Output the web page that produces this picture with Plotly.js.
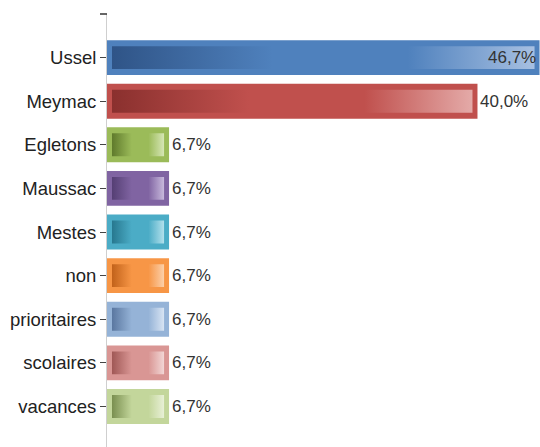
<!DOCTYPE html>
<html>
<head>
<meta charset="utf-8">
<script src="https://cdn.plot.ly/plotly-3.0.1.min.js"></script>
<style>html,body{margin:0;padding:0;background:#fff;}#chart{width:540px;height:447px;}</style>
</head>
<body>
<div id="chart"></div>
<script>
// ---- data ----
const categories = ['Ussel', 'Meymac', 'Egletons', 'Maussac', 'Mestes', 'non', 'prioritaires', 'scolaires', 'vacances'];
const values = [46.7, 40.0, 6.7, 6.7, 6.7, 6.7, 6.7, 6.7, 6.7];
const valueLabels = ['46,7%', '40,0%', '6,7%', '6,7%', '6,7%', '6,7%', '6,7%', '6,7%', '6,7%'];

// ---- styles ----
const baseColors  = ['#4f81bd', '#c0504d', '#9bbb59', '#8064a2', '#4bacc6', '#f79646', '#95b3d7', '#d99694', '#c3d69b'];
const darkColors  = ['#2f5487', '#8a302e', '#5f7a2c', '#553f74', '#27788f', '#c2621a', '#5a77a0', '#a05856', '#7a8f50'];
const lightColors = ['#a7c0e2', '#e4aaa8', '#d6e6b5', '#c8b9dc', '#b2e0ec', '#fcd0aa', '#d8e4f3', '#f2d6d5', '#e8f0d6'];

const W = 540, H = 447;
const margin = {l: 107, r: 0, t: 14, b: 0};
const xMax = 46.75;
const yRange = [8.93, -1];
const barWidth = 0.8;
const plotW = W - margin.l - margin.r;
const pxX = plotW / xMax;                                   // px per x unit
const pxY = (H - margin.t - margin.b) / (yRange[0] - yRange[1]); // px per category
const insetX = 5 / pxX, insetY = 6 / pxY;

const traces = [];
traces.push({
  type: 'bar', orientation: 'h',
  x: values, y: categories,
  width: barWidth,
  marker: {color: baseColors, line: {width: 0}},
  hoverinfo: 'skip', showlegend: false
});

categories.forEach((c, i) => {
  const v = values[i];
  const x0 = insetX, x1 = v - insetX;
  const y0 = i - barWidth / 2 + insetY, y1 = i + barWidth / 2 - insetY;
  traces.push({
    type: 'scatter', mode: 'lines',
    x: [x0, x1, x1, x0, x0], y: [y0, y0, y1, y1, y0],
    yaxis: 'y2',
    fill: 'toself',
    fillgradient: {type: 'horizontal', colorscale: [[0, darkColors[i]], [0.38, baseColors[i]], [0.7, baseColors[i]], [1, lightColors[i]]]},
    line: {width: 0},
    hoverinfo: 'skip', showlegend: false
  });
});

const vmax = Math.max(...values);
const annotations = categories.map((c, i) => {
  const inside = values[i] === vmax;
  return {
    xref: 'x', yref: 'y', x: values[i], y: c,
    text: valueLabels[i], showarrow: false,
    xanchor: inside ? 'right' : 'left',
    xshift: inside ? -2 : 1,
    font: {family: 'Liberation Sans, Arial, sans-serif', size: 17, color: '#333'}
  };
});

const layout = {
  width: W, height: H,
  margin: margin,
  paper_bgcolor: '#fff', plot_bgcolor: '#fff',
  showlegend: false,
  xaxis: {range: [0, xMax], visible: false, fixedrange: true},
  yaxis: {
    type: 'category', categoryorder: 'array', categoryarray: categories,
    range: yRange,
    showline: true, linecolor: '#cfcfcf', linewidth: 1,
    ticks: 'outside', ticklen: 6, tickcolor: '#444', tickwidth: 1,
    showgrid: false, zeroline: false,
    tickfont: {family: 'Liberation Sans, Arial, sans-serif', size: 18.5, color: '#222'},
    fixedrange: true
  },
  yaxis2: {overlaying: 'y', range: yRange, visible: false, fixedrange: true},
  annotations: annotations,
  shapes: [{
    type: 'line', xref: 'paper', x0: -7 / plotW, x1: 0,
    yref: 'paper', y0: 1, y1: 1, line: {color: '#333', width: 1.5}
  }]
};

Plotly.newPlot('chart', traces, layout, {staticPlot: true, displayModeBar: false});
</script>
</body>
</html>
